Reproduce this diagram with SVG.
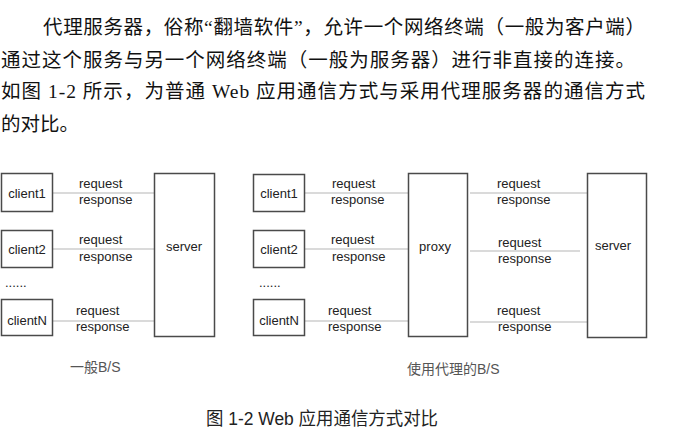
<svg xmlns="http://www.w3.org/2000/svg" width="681" height="437" viewBox="0 0 681 437">
<style>
.para{font-family:"Liberation Serif","Noto Sans CJK SC",serif;font-size:19.5px;fill:#111}
.box{fill:#fff;stroke:#4a4a4a;stroke-width:1.5}
.lbl{font-family:"Liberation Sans",Arial,sans-serif;font-size:13px;fill:#222}
.mid{text-anchor:middle}
.conn line{stroke:#b5b5b5;stroke-width:1.2}
.cap{font-family:"Liberation Sans","Noto Sans CJK SC",sans-serif;font-size:14px;fill:#555}
.fig{font-family:"Liberation Sans","Noto Sans CJK SC",sans-serif;font-size:18px;fill:#222}
</style>
<rect width="681" height="437" fill="#fff"/>
<text class="para" x="43" y="34" textLength="602" lengthAdjust="spacing">代理服务器，俗称“翻墙软件”，允许一个网络终端（一般为客户端）</text>
<text class="para" x="1" y="67" textLength="634" lengthAdjust="spacing">通过这个服务与另一个网络终端（一般为服务器）进行非直接的连接。</text>
<text class="para" x="1" y="98" textLength="644" lengthAdjust="spacing">如图 1-2 所示，为普通 Web 应用通信方式与采用代理服务器的通信方式</text>
<text class="para" x="1" y="131">的对比。</text>

<g class="conn" id="connectors">
<line x1="52" y1="193" x2="154" y2="193"/>
<line x1="52" y1="249" x2="154" y2="249"/>
<line x1="52" y1="321" x2="154" y2="321"/>
<line x1="305" y1="193" x2="408" y2="193"/>
<line x1="305" y1="249" x2="408" y2="249"/>
<line x1="305" y1="321" x2="408" y2="321"/>
<line x1="470" y1="193" x2="587" y2="193"/>
<line x1="470" y1="251" x2="580" y2="251"/>
<line x1="470" y1="322" x2="587" y2="322"/>
</g>

<g id="conn-labels" class="lbl">
<text x="79" y="188">request</text><text x="79" y="204">response</text>
<text x="79" y="244">request</text><text x="79" y="261">response</text>
<text x="76" y="315">request</text><text x="76" y="331">response</text>
<text x="332" y="188">request</text><text x="331" y="204">response</text>
<text x="331" y="244">request</text><text x="332" y="261">response</text>
<text x="328" y="315">request</text><text x="328" y="331">response</text>
<text x="497" y="188">request</text><text x="497" y="204">response</text>
<text x="498" y="247">request</text><text x="498" y="263">response</text>
<text x="497" y="315">request</text><text x="498" y="331">response</text>
</g>

<g id="l-client1"><rect class="box" x="1.5" y="173.5" width="51" height="38"/><text class="lbl mid" x="27" y="198">client1</text></g>
<g id="l-client2"><rect class="box" x="1.5" y="230.5" width="51" height="37"/><text class="lbl mid" x="27" y="254">client2</text></g>
<g id="l-clientN"><rect class="box" x="1.5" y="299.5" width="51" height="36"/><text class="lbl mid" x="27" y="325">clientN</text></g>
<g id="l-server"><rect class="box" x="154.5" y="173.5" width="60" height="163"/><text class="lbl mid" x="184" y="251">server</text></g>
<text class="lbl" x="5" y="287">......</text>

<g id="r-client1"><rect class="box" x="253.5" y="174.5" width="51" height="37"/><text class="lbl mid" x="279" y="198">client1</text></g>
<g id="r-client2"><rect class="box" x="253.5" y="230.5" width="51" height="37"/><text class="lbl mid" x="279" y="254">client2</text></g>
<g id="r-clientN"><rect class="box" x="253.5" y="299.5" width="51" height="36"/><text class="lbl mid" x="279" y="325">clientN</text></g>
<g id="r-proxy"><rect class="box" x="408.5" y="173.5" width="59" height="163"/><text class="lbl mid" x="435" y="251">proxy</text></g>
<g id="r-server"><rect class="box" x="587.5" y="173.5" width="59" height="164"/><text class="lbl mid" x="613" y="250">server</text></g>
<text class="lbl" x="259" y="287">......</text>

<text class="cap" x="70" y="372">一般B/S</text>
<text class="cap" x="407" y="374">使用代理的B/S</text>
<text class="fig" x="206" y="425" textLength="232" lengthAdjust="spacingAndGlyphs">图 1-2 Web 应用通信方式对比</text>
</svg>
